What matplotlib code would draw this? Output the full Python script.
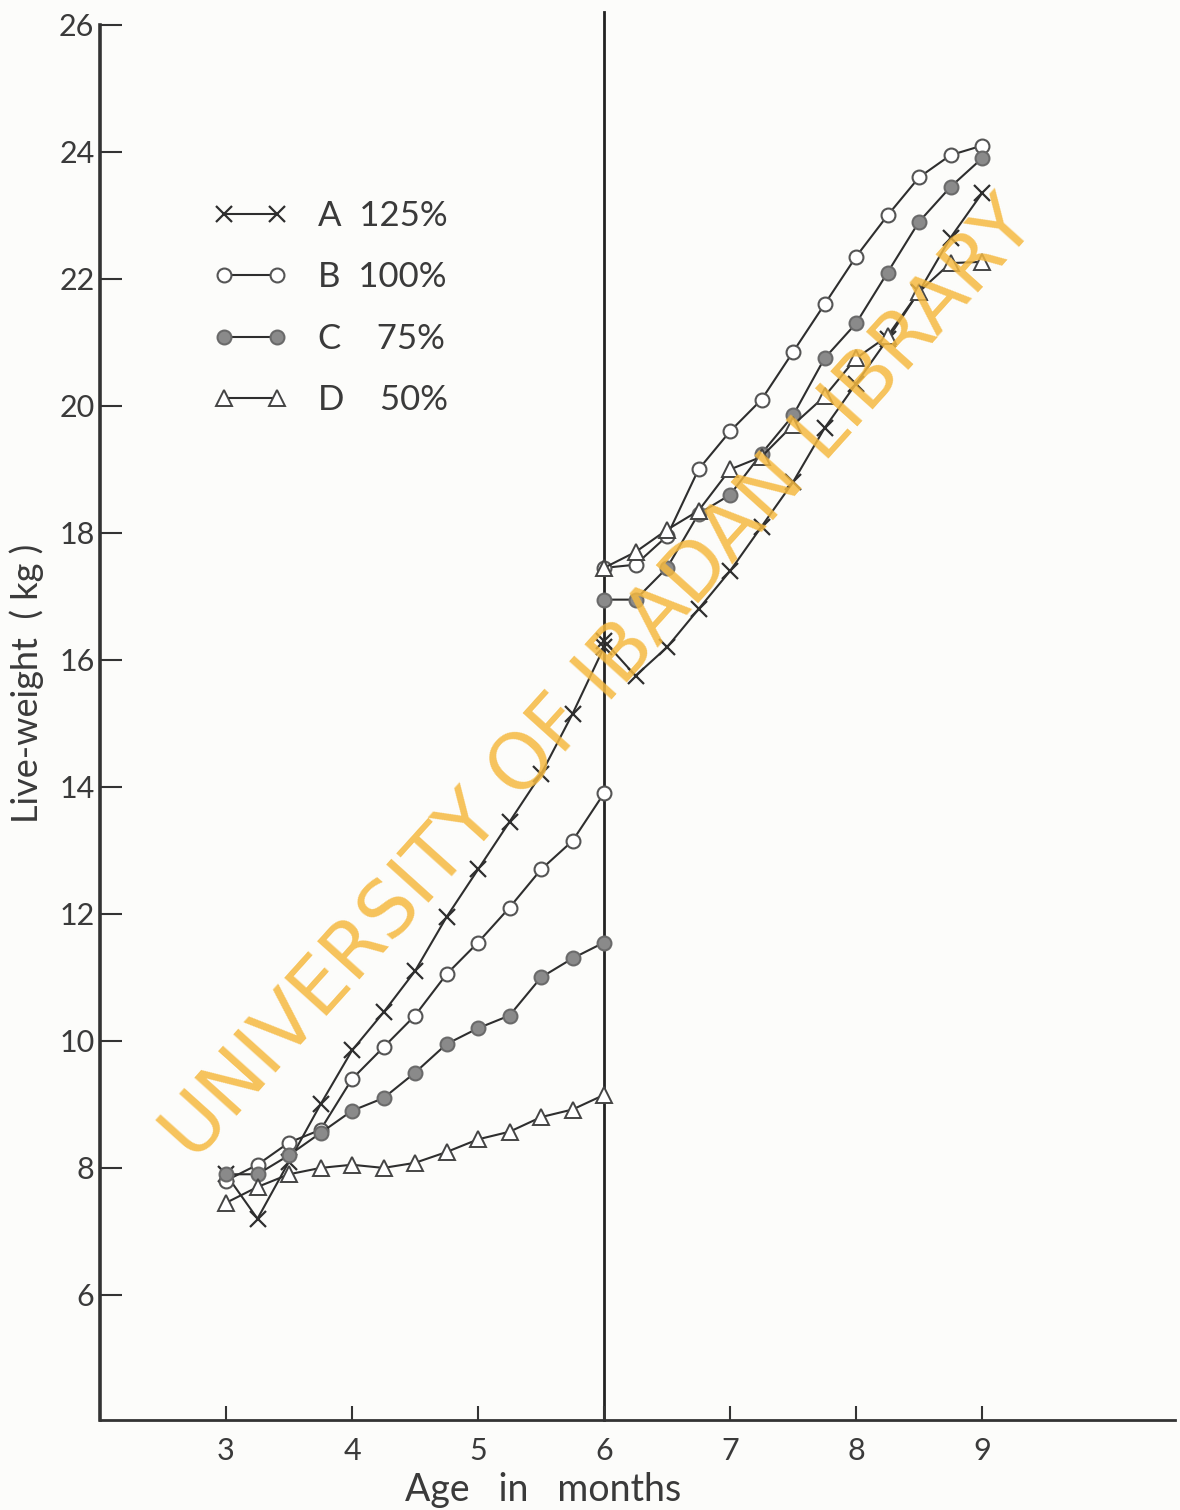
import matplotlib
matplotlib.use("Agg")
import matplotlib.pyplot as plt
import numpy as np

# ---- data ----
months_pre = [3.0, 3.25, 3.5, 3.75, 4.0, 4.25, 4.5, 4.75, 5.0, 5.25, 5.5, 5.75, 6.0]
months_post = [6.0, 6.25, 6.5, 6.75, 7.0, 7.25, 7.5, 7.75, 8.0, 8.25, 8.5, 8.75, 9.0]

A_pre = [7.9, 7.2, 8.1, 9.0, 9.85, 10.45, 11.1, 11.95, 12.7, 13.45, 14.2, 15.15, 16.2]
A_post = [16.3, 15.75, 16.2, 16.8, 17.4, 18.1, 18.8, 19.65, 20.35, 21.05, 21.8, 22.65, 23.35]

B_pre = [7.8, 8.05, 8.4, 8.6, 9.4, 9.9, 10.4, 11.05, 11.55, 12.1, 12.7, 13.15, 13.9]
B_post = [17.45, 17.5, 17.95, 19.0, 19.6, 20.1, 20.85, 21.6, 22.35, 23.0, 23.6, 23.95, 24.1]

C_pre = [7.9, 7.9, 8.2, 8.55, 8.9, 9.1, 9.5, 9.95, 10.2, 10.4, 11.0, 11.3, 11.55]
C_post = [16.95, 16.95, 17.45, 18.3, 18.6, 19.25, 19.85, 20.75, 21.3, 22.1, 22.9, 23.45, 23.9]

D_pre = [7.45, 7.7, 7.9, 8.0, 8.05, 8.0, 8.08, 8.25, 8.45, 8.57, 8.8, 8.92, 9.15]
D_post = [17.45, 17.7, 18.05, 18.35, 19.0, 19.2, 19.7, 20.15, 20.75, 21.1, 21.8, 22.25, 22.27]

labels = ["A  125%", "B  100%", "C    75%", "D    50%"]
x_ticks = [3, 4, 5, 6, 7, 8, 9]
y_ticks = [6, 8, 10, 12, 14, 16, 18, 20, 22, 24, 26]

# ---- style ----
font = "Lato"
ink = "#2e2e2e"
paper = "#fcfcfa"

fig = plt.figure(figsize=(11.8, 15.1), dpi=100, facecolor=paper)
ax = fig.add_axes([100/1180, 1 - 1420/1510, 1075/1180, 1395/1510])
ax.set_facecolor(paper)
ax.set_xlim(2.0, 2.0 + 1075/126)
ax.set_ylim(4.03, 26.0)

styles = [
    dict(marker="x", ms=11, mew=1.6, mfc="none", mec=ink),
    dict(marker="o", ms=10, mew=1.5, mfc="white", mec="#555555"),
    dict(marker="o", ms=10, mew=1.5, mfc="#8a8a8a", mec="#6a6a6a"),
    dict(marker="^", ms=11, mew=1.4, mfc="white", mec="#444444"),
]
series = [(A_pre, A_post), (B_pre, B_post), (C_pre, C_post), (D_pre, D_post)]
handles = []
for (pre, post), st, lab in zip(series, styles, labels):
    h, = ax.plot(months_pre, pre, color=ink, lw=1.5, label=lab, **st)
    ax.plot(months_post, post, color=ink, lw=1.5, **st)
    handles.append(h)

# vertical divider at 6 months
ax.plot([6, 6], [4.03, 26.2], color="#222222", lw=2.0, clip_on=False, zorder=1)

# axes / spines
for s in ["top", "right"]:
    ax.spines[s].set_visible(False)
ax.spines["left"].set_linewidth(2.6)
ax.spines["bottom"].set_linewidth(2.0)
ax.spines["left"].set_color("#333333")
ax.spines["bottom"].set_color("#333333")

ax.set_yticks(y_ticks)
ax.set_yticklabels([str(v) for v in y_ticks])
ax.set_xticks(x_ticks)
ax.set_xticklabels([str(v) for v in x_ticks])
ax.tick_params(axis="y", direction="in", length=16, width=1.5, colors="#333333",
               labelsize=22, pad=4)
ax.tick_params(axis="x", direction="in", length=10, width=1.5, colors="#333333",
               labelsize=22, pad=12)
for t in ax.get_xticklabels() + ax.get_yticklabels():
    t.set_fontfamily(font)
    t.set_color("#3a3a3a")

fig.text(27/1180, 1 - 683/1510, "Live-weight  ( kg )", rotation=90, ha="center",
         va="center", fontsize=26, family=font, color="#3a3a3a")
fig.text(543/1180, 1 - 1490/1510, "Age   in   months", ha="center", va="center",
         fontsize=27, family=font, color="#3a3a3a")

leg = ax.legend(handles=handles, loc="upper left", bbox_to_anchor=(0.077, 0.897),
                frameon=False, handlelength=2.1, numpoints=2,
                labelspacing=0.85, handletextpad=0.9, prop=dict(family=font, size=25))
for t in leg.get_texts():
    t.set_color("#3a3a3a")

# watermark
fig.text(600/1180, 1 - 680/1510, "UNIVERSITY OF IBADAN LIBRARY", rotation=48,
         ha="center", va="center", fontsize=56, family="DejaVu Sans",
         color="#f5b940", alpha=0.85, zorder=10)

fig.savefig("out.png", dpi=100, facecolor=paper)
